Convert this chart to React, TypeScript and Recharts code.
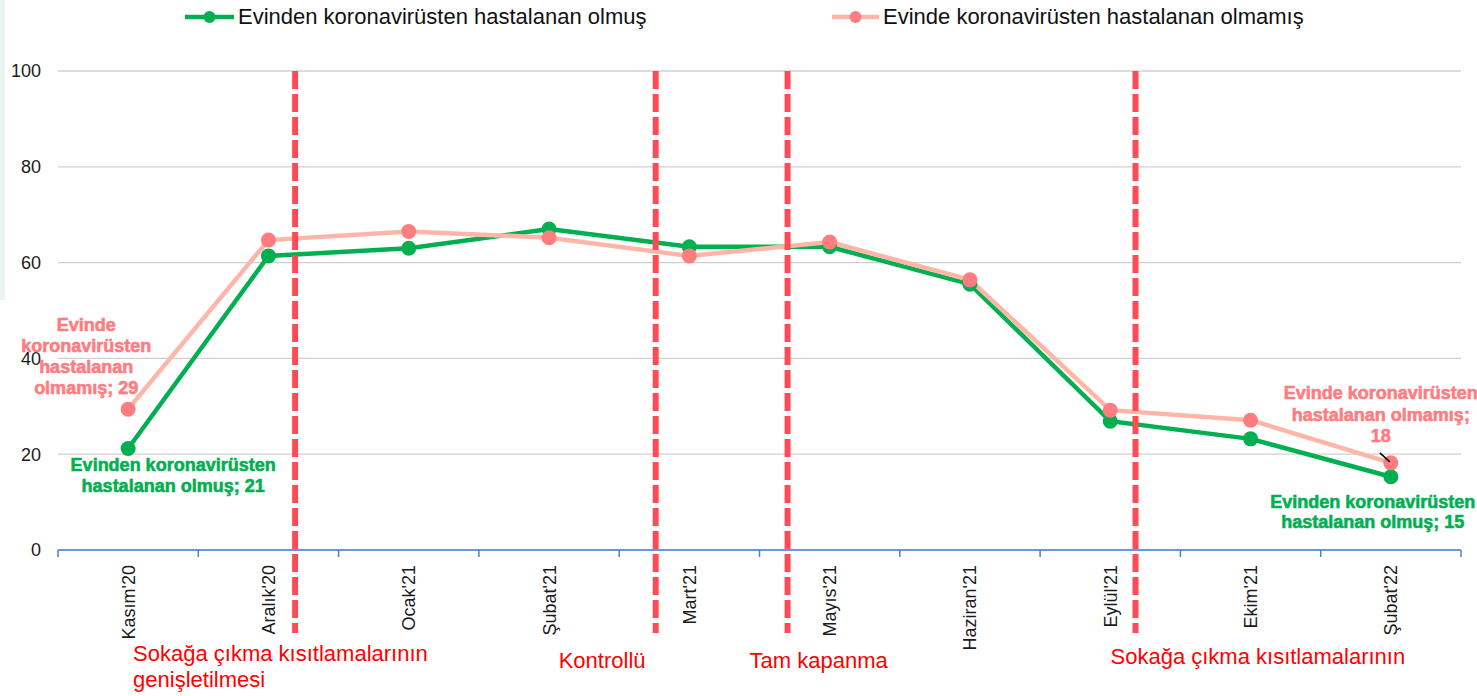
import React from 'react';
import { LineChart, Line, XAxis, YAxis, CartesianGrid, ReferenceLine, Legend, LabelList } from 'recharts';

// ---------- data ----------
const categories = ["Kasım'20", "Aralık'20", "Ocak'21", "Şubat'21", "Mart'21", "Mayıs'21", "Haziran'21", "Eylül'21", "Ekim'21", "Şubat'22"];
const seriesNames = ["Evinden koronavirüsten hastalanan olmuş", "Evinde koronavirüsten hastalanan olmamış"];
const seriesKeys = ["green", "pink"];
const greenValues = [21.2, 61.4, 63.0, 67.0, 63.3, 63.3, 55.5, 26.9, 23.2, 15.3];
const pinkValues = [29.4, 64.7, 66.5, 65.2, 61.4, 64.3, 56.4, 29.2, 27.1, 18.2];
const yTicks = [0, 20, 40, 60, 80, 100];
const eventPositions = [1.19, 3.76, 4.7, 7.18];
const eventTexts = [
  ["Sokağa çıkma kısıtlamalarının", "genişletilmesi"],
  ["Kontrollü"],
  ["Tam kapanma"],
  ["Sokağa çıkma kısıtlamalarının"],
];
const greenFirstLabel = ["Evinden koronavirüsten", "hastalanan olmuş; {v}"];
const greenLastLabel = ["Evinden koronavirüsten", "hastalanan olmuş; {v}"];
const pinkFirstLabel = ["Evinde", "koronavirüsten", "hastalanan", "olmamış; {v}"];
const pinkLastLabel = ["Evinde koronavirüsten", "hastalanan olmamış;", "{v}"];

const data = categories.map((c, i) => ({ idx: i, label: c, green: greenValues[i], pink: pinkValues[i] }));
const xTicks: number[] = [];
for (let i = 0; i <= categories.length * 2; i++) xTicks.push(-0.5 + i * 0.5);

// ---------- styles ----------
const FONT = '"Liberation Sans", Arial, sans-serif';
const GREEN = '#00B050';
const PINK_LINE = '#FFB6A8';
const PINK_DOT = '#FF7C80';
const RED_DASH = '#FF4B55';
const AXIS_BLUE = '#4A7FD0';

const eventLayout = [
  { dx: -162, dy: [111, 137] },
  { dx: -97, dy: [118] },
  { dx: -38, dy: [118] },
  { dx: -25, dy: [114] },
];

const labelLayout = {
  greenFirst: { dx: 45, dy: [23, 44] },
  greenLast: { dx: -18, dy: [31, 51] },
  pinkFirst: { dx: -42, dy: [-78, -57, -36, -15] },
  pinkLast: { dx: -10, dy: [-64, -42, -21] },
};

const XTick = (props: any) => {
  const { x, y, payload } = props;
  const v = payload.value;
  if (Math.abs(v - Math.round(v)) > 0.01) {
    return <line x1={x} y1={y} x2={x} y2={y + 7} stroke={AXIS_BLUE} strokeWidth={1.5} />;
  }
  const text = categories[Math.round(v)];
  return (
    <text
      transform={`translate(${x + 6.5},${y + 15}) rotate(-90)`}
      textAnchor="end"
      fontFamily={FONT}
      fontSize={18}
      fill="#1a1a1a"
    >
      {text}
    </text>
  );
};

const makeLabel = (
  first: string[],
  last: string[],
  firstLayout: { dx: number; dy: number[] },
  lastLayout: { dx: number; dy: number[] },
  color: string,
  leader: boolean
) => (props: any) => {
  const { x, y, index, value } = props;
  const n = categories.length;
  let lines: string[] | null = null;
  let lay = firstLayout;
  let isLast = false;
  if (index === 0) {
    lines = first;
    lay = firstLayout;
  } else if (index === n - 1) {
    lines = last;
    lay = lastLayout;
    isLast = true;
  }
  if (!lines) return null;
  const v = String(Math.round(Number(value)));
  return (
    <g>
      {isLast && leader ? (
        <line x1={x - 11} y1={y - 10} x2={x - 1} y2={y - 1} stroke="#000" strokeWidth={1.5} />
      ) : null}
      {lines.map((l, k) => (
        <text
          key={k}
          x={x + lay.dx}
          y={y + lay.dy[k]}
          textAnchor="middle"
          fontFamily={FONT}
          fontWeight="bold"
          fontSize={18}
          fill={color}
          stroke={color}
          strokeWidth={0.6}
        >
          {l.replace('{v}', v)}
        </text>
      ))}
    </g>
  );
};

const greenLabel = makeLabel(greenFirstLabel, greenLastLabel, labelLayout.greenFirst, labelLayout.greenLast, GREEN, false);
const pinkLabel = makeLabel(pinkFirstLabel, pinkLastLabel, labelLayout.pinkFirst, labelLayout.pinkLast, PINK_DOT, true);

const legendItems = [
  { left: 185, iconW: 53, line: GREEN, dot: GREEN },
  { left: 832, iconW: 51, line: PINK_LINE, dot: PINK_DOT },
];

const renderLegend = (props: any) => {
  const payload: any[] = props.payload || [];
  return (
    <div style={{ position: 'relative', width: 1477, height: 34 }}>
      {legendItems.map((it, i) => {
        const entry = payload.find((p) => p && p.dataKey === seriesKeys[i]);
        const name = entry ? entry.value : seriesNames[i];
        return (
          <div
            key={i}
            style={{
              position: 'absolute',
              left: it.left,
              top: 0,
              height: 34,
              display: 'flex',
              alignItems: 'center',
              whiteSpace: 'nowrap',
            }}
          >
            <svg width={it.iconW} height={34} style={{ display: 'block' }}>
              <line x1={0} y1={17} x2={it.iconW - 4} y2={17} stroke={it.line} strokeWidth={4.5} />
              <circle cx={(it.iconW - 4) / 2} cy={17} r={6} fill={it.dot} />
            </svg>
            <span style={{ fontFamily: FONT, fontSize: 22, color: '#111', lineHeight: '34px' }}>{name}</span>
          </div>
        );
      })}
    </div>
  );
};

const makeEventShape = (i: number) => (p: any) => {
  const top = Math.min(p.y1, p.y2);
  const bottom = Math.max(p.y1, p.y2);
  const x = p.x1;
  const lay = eventLayout[i];
  return (
    <g>
      <line x1={x} y1={top} x2={x} y2={bottom + 83} stroke={RED_DASH} strokeWidth={6} strokeDasharray="18 5" />
      {eventTexts[i].map((t, k) => (
        <text key={k} x={x + lay.dx} y={bottom + lay.dy[k]} fontFamily={FONT} fontSize={22} fill="#FF0000">
          {t}
        </text>
      ))}
    </g>
  );
};

export default function App() {
  return (
    <div style={{ position: 'relative', width: 1477, height: 696, background: '#fff', fontFamily: FONT }}>
      <style>{`body{margin:0;background:#fff}`}</style>
      <div style={{ position: 'absolute', left: 0, top: 0, width: 5, height: 300, background: '#EAF4F1' }} />
      <LineChart width={1477} height={696} data={data} margin={{ top: 71, right: 16, bottom: 0, left: 0 }}>
        <CartesianGrid horizontal vertical={false} stroke="#D0D0D0" strokeWidth={1.3} />
        <XAxis
          dataKey="idx"
          type="number"
          domain={[-0.5, 9.5]}
          ticks={xTicks}
          interval={0}
          height={146}
          tickLine={false}
          tickSize={0}
          tickMargin={0}
          axisLine={{ stroke: AXIS_BLUE, strokeWidth: 1.5 }}
          tick={<XTick />}
          allowDataOverflow
        />
        <YAxis
          domain={[0, 100]}
          ticks={yTicks}
          width={58}
          axisLine={false}
          tickLine={false}
          tickSize={0}
          tickMargin={17}
          tick={{ fontFamily: FONT, fontSize: 18, fill: '#1a1a1a' }}
        />
        <Legend verticalAlign="middle" align="center" layout="horizontal" content={renderLegend} wrapperStyle={{ top: 0, left: 0, width: 1477, height: 34 }} />
        <Line
          type="linear"
          dataKey="green"
          name={seriesNames[0]}
          stroke={GREEN}
          strokeWidth={4.5}
          dot={{ r: 7.5, fill: GREEN, stroke: GREEN, strokeWidth: 0 }}
          activeDot={false}
          isAnimationActive={false}
        >
          <LabelList dataKey="green" content={greenLabel} />
        </Line>
        <Line
          type="linear"
          dataKey="pink"
          name={seriesNames[1]}
          stroke={PINK_LINE}
          strokeWidth={4.5}
          dot={{ r: 7.5, fill: PINK_DOT, stroke: PINK_DOT, strokeWidth: 0 }}
          activeDot={false}
          isAnimationActive={false}
        >
          <LabelList dataKey="pink" content={pinkLabel} />
        </Line>
        {eventPositions.map((p, i) => (
          <ReferenceLine key={i} x={p} stroke={RED_DASH} shape={makeEventShape(i)} />
        ))}
      </LineChart>
    </div>
  );
}
